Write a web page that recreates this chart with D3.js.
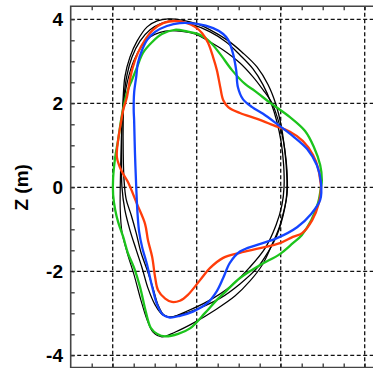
<!DOCTYPE html>
<html>
<head>
<meta charset="utf-8">
<script src="https://cdn.jsdelivr.net/npm/d3@7"></script>
<style>
  body { margin: 0; background: #fff; }
  svg { display: block; }
  .tick-label { font-family: "Liberation Sans", Arial, sans-serif; font-weight: bold; font-size: 19px; }
</style>
</head>
<body>
<div id="chart"></div>
<script>
// Z tick labels and grid positions
const zLabels = [-4, -2, 0, 2, 4];
const rGrid = [4, 6, 8, 10];

// boundary shapes, [R, Z]
const blackA = [[5.32,4.01],[5.65,3.98],[6.01,3.89],[6.32,3.75],[6.72,3.51],[7.10,3.20],[7.44,2.86],[7.70,2.44],[7.89,1.96],[8.01,1.48],[8.08,1.01],[8.13,0.53],[8.15,0.01],[8.13,-0.30],[8.06,-0.66],[7.91,-1.14],[7.70,-1.54],[7.44,-1.92],[7.03,-2.30],[6.56,-2.64],[6.08,-2.87],[5.60,-3.04],[5.36,-3.09],[5.17,-3.02],[5.01,-2.80],[4.84,-2.40],[4.70,-1.92],[4.56,-1.49],[4.41,-1.02],[4.29,-0.54],[4.22,0.01],[4.21,0.89],[4.22,1.51],[4.25,2.15],[4.29,2.63],[4.41,3.10],[4.58,3.48],[4.82,3.82],[5.06,3.96]];

const blackB = [[5.39,3.73],[5.65,3.71],[5.96,3.65],[6.32,3.46],[6.63,3.27],[7.03,2.96],[7.34,2.63],[7.58,2.32],[7.79,2.01],[7.94,1.60],[8.06,1.13],[8.13,0.65],[8.16,0.17],[8.15,-0.18],[8.08,-0.54],[7.96,-0.97],[7.79,-1.37],[7.56,-1.85],[7.27,-2.23],[6.91,-2.59],[6.44,-2.92],[5.96,-3.21],[5.48,-3.45],[5.17,-3.56],[4.96,-3.45],[4.82,-3.16],[4.67,-2.68],[4.51,-2.09],[4.34,-1.54],[4.22,-1.06],[4.18,-0.54],[4.18,0.01],[4.20,0.89],[4.22,1.51],[4.27,2.08],[4.36,2.56],[4.51,3.03],[4.69,3.36],[4.89,3.58],[5.13,3.69]];

const blackC = [[5.41,3.96],[5.84,3.89],[6.32,3.70],[6.70,3.46],[7.03,3.15],[7.34,2.82],[7.58,2.44],[7.77,2.01],[7.91,1.56],[8.01,1.08],[8.07,0.53],[8.08,0.01],[8.03,-0.42],[7.89,-0.90],[7.63,-1.45],[7.25,-1.92],[6.84,-2.33],[6.27,-2.71],[5.72,-2.97],[5.41,-3.09],[5.22,-3.04],[5.08,-2.80],[4.96,-2.40],[4.82,-1.97],[4.67,-1.54],[4.56,-1.09],[4.44,-0.66],[4.32,-0.28],[4.27,0.17],[4.25,0.82],[4.25,1.60],[4.27,2.15],[4.34,2.67],[4.46,3.10],[4.65,3.48],[4.89,3.75],[5.13,3.89]];

const redShape = [[5.48,3.96],[5.77,3.91],[5.96,3.82],[6.13,3.67],[6.27,3.44],[6.39,3.10],[6.48,2.79],[6.56,2.39],[6.63,2.08],[6.75,1.91],[7.03,1.77],[7.44,1.63],[7.82,1.48],[8.22,1.32],[8.53,1.10],[8.77,0.77],[8.89,0.46],[8.94,0.17],[8.96,0.01],[8.91,-0.37],[8.75,-0.78],[8.51,-1.09],[8.29,-1.18],[7.98,-1.33],[7.51,-1.45],[7.03,-1.56],[6.63,-1.68],[6.32,-1.92],[6.08,-2.21],[5.79,-2.56],[5.60,-2.70],[5.41,-2.73],[5.25,-2.65],[5.08,-2.45],[5.01,-2.14],[4.94,-1.66],[4.84,-1.26],[4.77,-0.87],[4.58,-0.40],[4.36,0.13],[4.20,0.41],[4.10,0.72],[4.13,1.13],[4.20,1.56],[4.25,1.84],[4.34,2.15],[4.41,2.56],[4.48,2.86],[4.60,3.20],[4.77,3.51],[4.96,3.75],[5.20,3.91]];

const blueShape = [[5.60,3.91],[6.01,3.89],[6.39,3.79],[6.63,3.65],[6.75,3.51],[6.86,3.20],[6.94,2.79],[6.98,2.39],[7.10,2.10],[7.32,1.91],[7.58,1.75],[7.91,1.51],[8.29,1.22],[8.63,0.91],[8.86,0.53],[8.96,0.10],[8.94,-0.30],[8.72,-0.64],[8.39,-0.95],[7.91,-1.21],[7.44,-1.37],[7.03,-1.53],[6.79,-1.80],[6.63,-2.16],[6.48,-2.47],[6.25,-2.76],[5.91,-2.96],[5.60,-3.06],[5.36,-3.10],[5.20,-3.04],[5.06,-2.80],[4.94,-2.37],[4.82,-1.85],[4.70,-1.42],[4.63,-1.06],[4.59,-0.61],[4.56,0.01],[4.53,0.82],[4.51,1.60],[4.50,1.84],[4.51,2.25],[4.56,2.63],[4.60,2.96],[4.70,3.27],[4.82,3.51],[5.01,3.70],[5.29,3.84]];

const greenShape = [[5.48,3.75],[5.77,3.71],[6.08,3.63],[6.32,3.46],[6.56,3.17],[6.84,2.79],[7.15,2.46],[7.39,2.29],[7.75,2.01],[8.22,1.67],[8.58,1.34],[8.79,0.96],[8.94,0.53],[8.98,0.17],[8.96,0.01],[8.89,-0.37],[8.73,-0.78],[8.50,-1.14],[8.29,-1.33],[7.98,-1.59],[7.51,-1.85],[7.03,-2.16],[6.70,-2.47],[6.48,-2.68],[6.20,-2.99],[5.84,-3.36],[5.56,-3.49],[5.25,-3.55],[5.06,-3.49],[4.91,-3.35],[4.79,-2.97],[4.65,-2.37],[4.51,-1.92],[4.36,-1.56],[4.25,-1.18],[4.13,-0.83],[4.06,-0.54],[4.01,-0.18],[4.01,0.22],[4.06,0.72],[4.13,1.13],[4.22,1.72],[4.34,2.25],[4.46,2.56],[4.58,2.86],[4.72,3.20],[4.94,3.46],[5.17,3.65]];

const W = 373, H = 368;

const svg = d3.select("#chart").append("svg")
    .attr("width", W)
    .attr("height", H);

// same px per metre on both axes
const x = d3.scaleLinear().domain([4, 10]).range([112.7, 364.7]);
const y = d3.scaleLinear().domain([-4, 4]).range([355.3, 19.3]);

const xLeft = x(3), xRight = x(10.3);
const yTop = y(4.31), yBot = y(-4.29);

// dashed grid
svg.append("g")
    .selectAll("line")
    .data(zLabels)
    .enter()
    .append("line")
    .attr("x1", xLeft).attr("x2", xRight)
    .attr("y1", d => y(d)).attr("y2", d => y(d))
    .attr("stroke", "#111")
    .attr("stroke-width", 1.3)
    .attr("stroke-dasharray", "4,2.5");

svg.append("g")
    .selectAll("line")
    .data(rGrid)
    .enter()
    .append("line")
    .attr("x1", d => x(d)).attr("x2", d => x(d))
    .attr("y1", yTop).attr("y2", yBot)
    .attr("stroke", "#111")
    .attr("stroke-width", 1.3)
    .attr("stroke-dasharray", "4,2.5");

// minor ticks pointing inwards
const zTicks = d3.range(-4, 4.01, 0.5);
const rTicks = d3.range(3.5, 10.3, 0.5);

svg.append("g")
    .call(d3.axisRight(y).tickValues(zTicks).tickFormat("").tickSize(4).tickSizeOuter(0))
    .attr("transform", `translate(${xLeft},0)`)
    .call(g => g.select(".domain").remove())
    .call(g => g.selectAll("line").attr("stroke", "#333").attr("stroke-width", 1.3));

svg.append("g")
    .call(d3.axisTop(x).tickValues(rTicks).tickFormat("").tickSize(4).tickSizeOuter(0))
    .attr("transform", `translate(0,${yBot})`)
    .call(g => g.select(".domain").remove())
    .call(g => g.selectAll("line").attr("stroke", "#333").attr("stroke-width", 1.3));

svg.append("g")
    .call(d3.axisBottom(x).tickValues(rTicks).tickFormat("").tickSize(4).tickSizeOuter(0))
    .attr("transform", `translate(0,${yTop})`)
    .call(g => g.select(".domain").remove())
    .call(g => g.selectAll("line").attr("stroke", "#333").attr("stroke-width", 1.3));

// boundaries
const line = d3.line()
    .x(d => x(d[0]))
    .y(d => y(d[1]))
    .curve(d3.curveCatmullRomClosed.alpha(0.5));

const shapes = [
    {pts: blackA, color: "#000", w: 1.3},
    {pts: blackC, color: "#000", w: 1.3},
    {pts: blackB, color: "#000", w: 1.2},
    {pts: greenShape, color: "#1cc41c", w: 2.3},
    {pts: redShape, color: "#ff3d0a", w: 2.3},
    {pts: blueShape, color: "#1444ff", w: 2.3}
];

svg.append("g")
    .selectAll("path")
    .data(shapes)
    .enter()
    .append("path")
    .attr("d", d => line(d.pts))
    .attr("fill", "none")
    .attr("stroke", d => d.color)
    .attr("stroke-width", d => d.w)
    .attr("stroke-linejoin", "round");

// frame
svg.append("path")
    .attr("d", `M${xRight},${yTop}H${xLeft}V${yBot}H${xRight}`)
    .attr("fill", "none")
    .attr("stroke", "#444")
    .attr("stroke-width", 1.6);

// tick labels
svg.append("g")
    .selectAll("text")
    .data(zLabels)
    .enter()
    .append("text")
    .attr("class", "tick-label")
    .attr("x", 63)
    .attr("y", d => y(d))
    .attr("dy", "0.36em")
    .attr("text-anchor", "end")
    .text(d => d);

svg.append("text")
    .attr("class", "tick-label")
    .attr("transform", `translate(28,${y(0)}) rotate(-90)`)
    .attr("text-anchor", "middle")
    .text("Z (m)");
</script>
</body>
</html>
